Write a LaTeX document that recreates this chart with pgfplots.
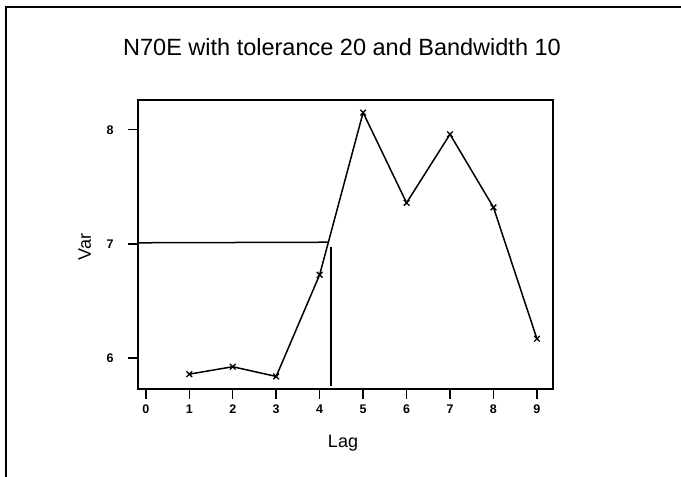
\documentclass[border=0pt]{standalone}
\usepackage{fontspec}
\setmainfont{Liberation Sans}
\usepackage{pgfplots}
\pgfplotsset{compat=1.18}
\begin{document}
\begin{tikzpicture}
\path[use as bounding box] (0pt,0pt) rectangle (681pt,-477pt);
\draw[line width=2pt] (6pt,-477pt) -- (6pt,-6.5pt) -- (681pt,-6.5pt);
\node[font=\fontsize{23.5}{27}\selectfont] at (342pt,-47pt) {N70E with tolerance 20 and Bandwidth 10};
\begin{axis}[
  at={(138pt,-389pt)}, anchor=south west,
  scale only axis, width=415pt, height=289pt,
  xmin=-0.18, xmax=9.37, ymin=5.73, ymax=8.26,
  xtick={0,1,2,3,4,5,6,7,8,9}, ytick={6,7,8},
  xtick pos=left, ytick pos=left,
  tick align=outside, major tick length=10pt,
  every tick/.style={black, line width=1.5pt},
  axis line style={line width=1.5pt},
  /pgf/number format/assume math mode=true,
  ticklabel style={font=\bfseries\fontsize{12.5}{14}\selectfont},
  xticklabel style={yshift=-2pt},
  yticklabel style={xshift=-11pt},
  xlabel={Lag}, ylabel={Var},
  label style={font=\fontsize{18}{21}\selectfont},
  xlabel style={at={(axis description cs:0.494,0)}, anchor=center, yshift=-54pt},
  ylabel style={at={(axis description cs:-0.128,0.491)}, anchor=center},
]
\addplot[black, line width=1.5pt, mark=x, mark size=4pt, mark options={line width=1.3pt}]
coordinates {(1,5.86) (2,5.925) (3,5.84) (4,6.73) (5,8.15) (6,7.36) (7,7.96) (8,7.32) (9,6.17)};
\addplot[black, line width=1.5pt, no marks] coordinates {(-0.18,7.01) (4.2,7.015)};
\addplot[black, line width=1.5pt, no marks] coordinates {(4.26,6.97) (4.26,5.755)};
\end{axis}
\end{tikzpicture}
\end{document}
